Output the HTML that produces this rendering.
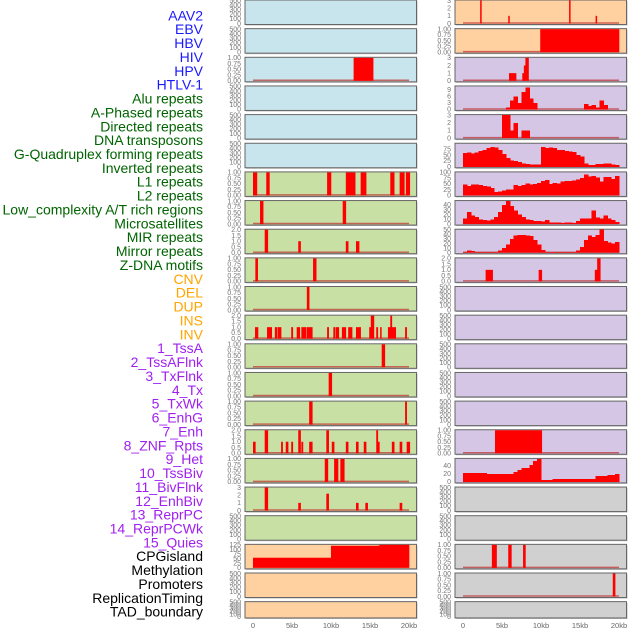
<!DOCTYPE html>
<html><head><meta charset="utf-8"><style>
html,body{margin:0;padding:0;background:#fff;width:630px;height:630px;overflow:hidden}
svg{display:block}
</style></head><body>
<svg id="chart" width="630" height="630" xmlns="http://www.w3.org/2000/svg" font-family="Liberation Sans, sans-serif"></svg>
<script>
// ---- labels ----
const labelNames = ["AAV2","EBV","HBV","HIV","HPV","HTLV-1","Alu repeats","A-Phased repeats","Directed repeats","DNA transposons","G-Quadruplex forming repeats","Inverted repeats","L1 repeats","L2 repeats","Low_complexity A/T rich regions","Microsatellites","MIR repeats","Mirror repeats","Z-DNA motifs","CNV","DEL","DUP","INS","INV","1_TssA","2_TssAFlnk","3_TxFlnk","4_Tx","5_TxWk","6_EnhG","7_Enh","8_ZNF_Rpts","9_Het","10_TssBiv","11_BivFlnk","12_EnhBiv","13_ReprPC","14_ReprPCWk","15_Quies","CPGisland","Methylation","Promoters","ReplicationTiming","TAD_boundary"];
const labelGroups = [6,13,5,15,5];
const groupColors = ["#1a1aff","#006400","#ffa500","#a020f0","#000000"];

// ---- x axis ----
const xTicksKb = [0,5,10,15,20];
const xTickLabels = ["0","5kb","10kb","15kb","20kb"];

// ---- left column data (intervals: [startKb, endKb, value]) ----
const L3 = [[12.9,15.4,1]];
const L7 = [[0,0.5,1],[1.7,2.1,1],[9.5,10,1],[11.9,13.1,1],[13.8,14.5,1],[17.6,18.1,1],[18.8,19.4,1],[19.6,20.1,1]];
const L8 = [[0.9,1.3,1],[11.5,11.9,1]];
const L9 = [[1.5,1.9,2],[5.8,6.1,1],[11.9,12.2,1],[13.2,13.6,1]];
const L10 = [[0.3,0.6,1],[7.7,8.1,1]];
const L11 = [[6.9,7.2,1]];
const L12 = [[0.26,0.64,1],[1.8,2.4,1],[2.8,3.1,1],[3.2,3.6,1],[4.9,5.1,1],[5.6,6.0,1],[6.2,6.8,1],[6.9,7.6,1],[9.5,9.7,1],[10.3,10.5,1],[10.6,11.0,1],[11.4,11.9,1],[12.2,12.7,1],[13.2,13.8,1],[14.9,15.1,1],[15.1,15.5,2],[15.8,16.0,1],[16.3,16.4,1],[17.3,17.6,1],[17.6,17.8,2],[17.8,18.3,1],[19.5,19.7,1]];
const L13 = [[16.5,16.9,1]];
const L14 = [[9.7,10.1,1]];
const L15 = [[7.2,7.6,1],[19.5,19.7,1]];
const L16 = [[0,0.3,1],[1.5,1.9,2],[3.6,3.8,1],[4.2,4.5,1],[4.9,5.1,1],[5.8,6.1,2],[6.2,6.4,1],[7.2,7.6,1],[9.4,9.7,2],[10.1,10.4,1],[11.9,12.2,1],[13.2,13.5,1],[14.2,14.5,1],[15.8,16.0,2],[16.0,16.2,1],[17.8,18.1,1],[18.8,19.1,1],[19.7,20.1,1]];
const L17 = [[9.2,9.6,1],[10.4,10.9,1],[11.2,11.7,1]];
const L18 = [[1.5,1.9,3],[5.8,6.1,1],[9.4,9.7,2.2],[13.2,13.5,1],[14.4,14.7,1],[18.8,19.1,1]];
const L20 = [[0,10,55],[10,16.2,120],[16.2,20,125]];

// ---- right column data ----
const R1 = [[2.2,2.35,3],[5.8,5.95,1],[13.6,13.75,3],[17.0,17.15,1]];
const R2 = [[9.9,20,1]];
const R3 = [[5.9,6.8,1],[7.6,7.8,1],[7.8,8.0,2],[8.0,8.4,3]];
// profiles: 40 bins of 0.5kb
const R4 = [0,0,0,0,0,0,0,0,0,0,0,1,4,6,3,8,10,5,3,0,0,0,0,0,0,0,0,0,0,0,0,2.5,1.5,2,1,4,2,0,0,0];
const R5 = [0,0,0,0,0,0,0,0,0,0,3,3,1,2,0,1,1,0,0,0,0,0,0,0,0,0,0,0,0,0,0,0,0,0,0,0,0,0,0,0];
const R6 = [60,62,58,62,68,72,80,85,82,72,55,38,27,25,20,13,12,10,10,10,85,80,82,80,72,72,68,65,63,50,45,15,8,8,12,12,15,15,10,8];
const R7 = [48,40,48,48,45,40,38,32,15,18,22,25,25,45,40,45,52,48,50,55,62,66,50,55,52,60,62,62,65,70,75,90,82,85,78,60,80,80,72,85];
const R8 = [12,25,18,15,10,8,7,10,15,25,40,48,38,28,20,15,10,8,6,6,5,8,3,3,3,2,3,3,2,6,12,12,12,28,14,12,18,12,8,4];
const R9 = [2,5,4,1,1,1,1,1,1,5,10,18,30,37,38,38,37,36,28,18,6,1,1,1,1,1,1,1,1,5,12,28,37,34,38,50,25,22,20,23];
const R10 = [[2.9,3.8,1],[9.7,10.1,1],[16.9,17.2,1],[17.2,17.6,2]];
const R16 = [[4.1,10.1,1]];
const R17 = [22,22,22,22,22,22,19,19,19,19,19,19,19,25,30,35,35,42,52,57,5,5,5,7,7,7,7,7,7,7,7,7,7,7,15,15,15,17,17,19];
const R20 = [[3.7,4.0,1],[4.0,4.3,1],[5.8,6.2,1],[7.7,8.0,1]];
const R21 = [[19.2,19.5,1]];

const BLUE="#c8e4ec", GREEN="#c8e0a4", PEACH="#ffd0a0", LAV="#d4c6e4", GRAY="#d0d0d0";
const T1=[0,0.25,0.5,0.75,1], T2=[0,0.5,1,1.5,2], TE=[0,100,200,300,400,500];
const leftPanels = [
 [BLUE,null,null,TE,500,0],[BLUE,null,null,TE,500,0],[BLUE,L3,"iv",T1,1,2],[BLUE,null,null,TE,500,0],[BLUE,null,null,TE,500,0],[BLUE,null,null,TE,500,0],
 [GREEN,L7,"iv",T1,1,2],[GREEN,L8,"iv",T1,1,2],[GREEN,L9,"iv",T2,2,1],[GREEN,L10,"iv",T1,1,2],[GREEN,L11,"iv",T1,1,2],[GREEN,L12,"iv",T2,2,1],
 [GREEN,L13,"iv",T1,1,2],[GREEN,L14,"iv",T1,1,2],[GREEN,L15,"iv",T1,1,2],[GREEN,L16,"iv",T2,2,1],[GREEN,L17,"iv",T1,1,2],[GREEN,L18,"iv",[0,1,2,3],3,0],
 [GREEN,null,null,TE,500,0],[PEACH,L20,"iv0",[0,25,50,75,100,125],125,0],[PEACH,null,null,TE,500,0],[PEACH,null,null,TE,500,0]];
const rightPanels = [
 [PEACH,R1,"iv",[0,1,2,3],3,0],[PEACH,R2,"iv",T1,1,2],[LAV,R3,"iv",[0,1,2,3],3,0],[LAV,R4,"bin",[0,3,6,9],10.5,0],[LAV,R5,"bin",[0,1,2,3],3,0],
 [LAV,R6,"bin",[0,25,50,75],99,0],[LAV,R7,"bin",[0,25,50,75,100],100,0],[LAV,R8,"bin",[0,10,20,30,40],48,0],[LAV,R9,"bin",[0,10,20,30,40,50],50,0],
 [LAV,R10,"iv",T2,2,1],[LAV,null,null,TE,500,0],[LAV,null,null,TE,500,0],[LAV,null,null,TE,500,0],[LAV,null,null,TE,500,0],[LAV,null,null,TE,500,0],
 [LAV,R16,"iv",T1,1,2],[LAV,R17,"bin",[0,20,40],57,0],[GRAY,null,null,TE,500,0],[GRAY,null,null,TE,500,0],[GRAY,R20,"iv",T1,1,2],[GRAY,R21,"iv",T1,1,2],[GRAY,null,null,TE,500,0]];

const NS="http://www.w3.org/2000/svg";
const svg=document.getElementById('chart');
function mk(tag,attrs,parent){const e=document.createElementNS(NS,tag);for(const k in attrs)e.setAttribute(k,attrs[k]);(parent||svg).appendChild(e);return e;}

let li=0;
labelGroups.forEach((n,g)=>{for(let j=0;j<n;j++){const t=mk('text',{x:203,y:(20.3+li*13.87).toFixed(1),'text-anchor':'end','font-size':14,fill:groupColors[g]});


t.textContent=labelNames[li];li++;}});

function drawColumn(panels,frameX,frameW,x0,colName){
 const xs=kb=>x0+kb*7.8;
 panels.forEach((p,i)=>{
  const [bg,data,type,ticks,ymax,dig]=p;
  const top=i*28.65, h=(i===21)?16.3:24.5, bottom=top+h;
  const g=mk('g',{});
  
  
  mk('rect',{x:frameX+1,y:top+1,width:frameW,height:h,fill:'#bbb'},g);
  mk('rect',{x:frameX,y:top,width:frameW,height:h,fill:bg,stroke:'#666','stroke-width':1},g);
  const ys=v=>bottom-1-v/ymax*(h-1.5);
  ticks.forEach(tv=>{const t=mk('text',{x:frameX-4,y:(ys(tv)+2.3).toFixed(1),'text-anchor':'end','font-size':7,fill:'#777'},g);
   
   
   t.textContent=tv.toFixed(dig);});
  if(!data) return;
  if(type!=="iv0") mk('line',{x1:xs(0),x2:xs(20),y1:ys(0)-0.5,y2:ys(0)-0.5,stroke:'#c03030','stroke-opacity':0.7,'stroke-width':1.5},g);
  if(type==="bin"){
   data.forEach((v,k)=>{if(v<=0)return;const b=mk('rect',{x:xs(k*0.5),y:ys(v),width:4.4,height:ys(0)-ys(v),fill:'#ff0000','shape-rendering':'crispEdges'},g);
    
    });
  } else {
   data.forEach(d=>{const w=Math.max(1.2,xs(d[1])-xs(d[0]));const b=mk('rect',{x:xs(d[0]),y:ys(d[2]),width:w+0.3,height:ys(0)-ys(d[2]),fill:'#ff0000'},g);
    
    });
  }
 });
 xTicksKb.forEach((kb,k)=>{const t=mk('text',{x:xs(kb),y:628,'text-anchor':'middle','font-size':7.5,fill:'#666'});
  
  
  t.textContent=xTickLabels[k];});
}
drawColumn(leftPanels,245,171.5,253,'left');
drawColumn(rightPanels,455,171.5,463,'right');
</script>
</body></html>
